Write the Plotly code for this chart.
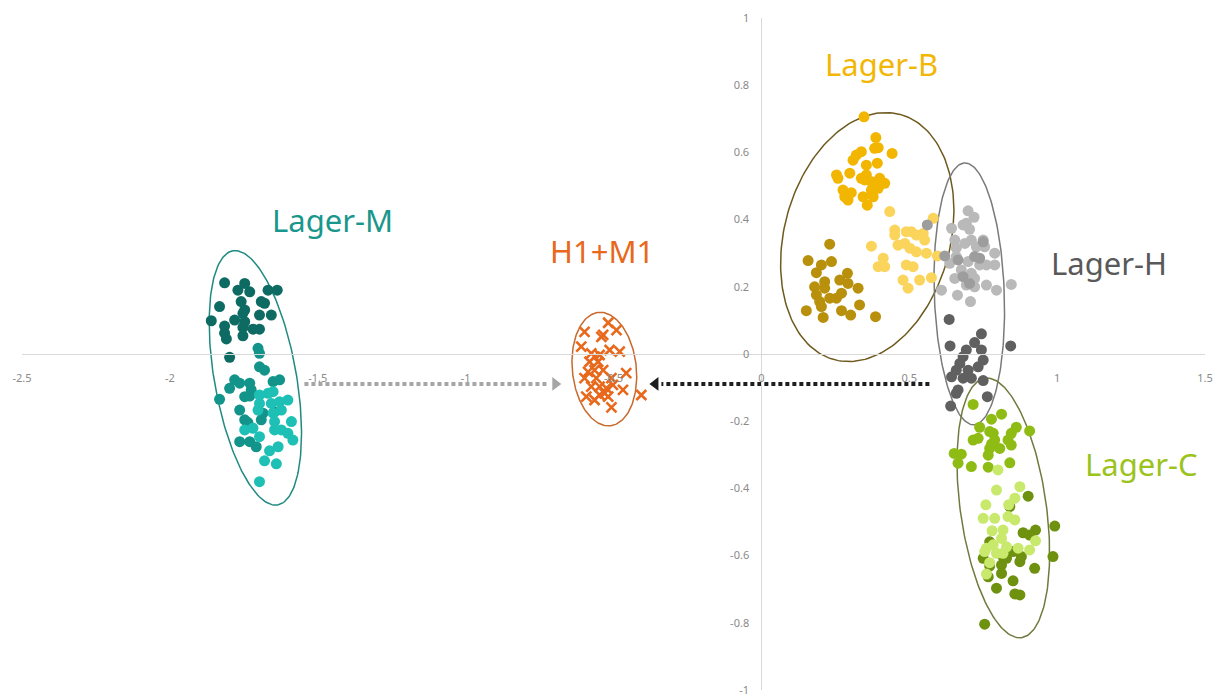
import numpy as np
import plotly.graph_objects as go

# ---------------- data ----------------
m_dark_x = [-1.815, -1.770, -1.747, -1.730, -1.668, -1.637, -1.759, -1.691, -1.680, -1.832, -1.747, -1.753, -1.697,
            -1.657, -1.860, -1.781, -1.747, -1.815, -1.753, -1.719, -1.697, -1.815, -1.753, -1.809, -1.798]
m_dark_y = [0.212, 0.190, 0.210, 0.185, 0.190, 0.190, 0.156, 0.156, 0.151, 0.141, 0.131, 0.121, 0.116,
            0.116, 0.099, 0.101, 0.096, 0.083, 0.079, 0.074, 0.074, 0.062, 0.054, 0.045, -0.010]
m_mid_x = [-1.702, -1.697, -1.697, -1.680, -1.781, -1.764, -1.798, -1.730, -1.725, -1.651, -1.629, -1.832, -1.747,
           -1.730, -1.764, -1.685, -1.691, -1.646, -1.747, -1.736, -1.764, -1.730, -1.708]
m_mid_y = [0.017, 0.002, -0.038, -0.048, -0.077, -0.087, -0.102, -0.087, -0.107, -0.082, -0.077, -0.135, -0.127,
           -0.125, -0.167, -0.176, -0.196, -0.172, -0.196, -0.204, -0.261, -0.261, -0.276]
m_light_x = [-1.697, -1.668, -1.651, -1.697, -1.657, -1.629, -1.601, -1.702, -1.651, -1.623, -1.589, -1.646, -1.747,
             -1.719, -1.697, -1.646, -1.623, -1.601, -1.584, -1.634, -1.663, -1.680, -1.640, -1.697]
m_light_y = [-0.122, -0.117, -0.112, -0.147, -0.147, -0.142, -0.137, -0.167, -0.176, -0.167, -0.201, -0.201, -0.226,
             -0.221, -0.246, -0.226, -0.226, -0.236, -0.256, -0.276, -0.288, -0.318, -0.327, -0.380]

hm_x = [-0.598, -0.518, -0.490, -0.535, -0.541, -0.609, -0.575, -0.564, -0.547, -0.513, -0.479, -0.581, -0.552,
        -0.586, -0.564, -0.535, -0.598, -0.558, -0.507, -0.457, -0.575, -0.547, -0.524, -0.502, -0.468, -0.592,
        -0.547, -0.518, -0.564, -0.406, -0.507, -0.530]
hm_y = [0.066, 0.093, 0.071, 0.057, 0.051, 0.022, 0.002, -0.008, -0.003, 0.012, 0.007, -0.023, -0.023,
        -0.053, -0.048, -0.048, -0.072, -0.072, -0.072, -0.057, -0.097, -0.097, -0.102, -0.092, -0.107, -0.127,
        -0.122, -0.127, -0.137, -0.122, -0.159, -0.117]

b_main_x = [0.347, 0.387, 0.383, 0.395, 0.442, 0.338, 0.321, 0.310, 0.355, 0.392, 0.299, 0.254, 0.259, 0.338,
            0.355, 0.372, 0.400, 0.417, 0.395, 0.276, 0.304, 0.282, 0.293, 0.344, 0.378, 0.358, 0.372, 0.349]
b_main_y = [0.706, 0.644, 0.612, 0.614, 0.597, 0.602, 0.592, 0.577, 0.562, 0.568, 0.538, 0.533, 0.523, 0.523,
            0.533, 0.513, 0.523, 0.508, 0.493, 0.488, 0.480, 0.468, 0.458, 0.468, 0.468, 0.443, 0.488, 0.518]
b_light_x = [0.434, 0.581, 0.451, 0.451, 0.490, 0.507, 0.524, 0.547, 0.552, 0.462, 0.485, 0.502, 0.524, 0.372,
             0.558, 0.595, 0.412, 0.395, 0.417, 0.490, 0.513, 0.479, 0.535, 0.496, 0.575]
b_light_y = [0.424, 0.404, 0.369, 0.354, 0.364, 0.364, 0.354, 0.359, 0.339, 0.324, 0.329, 0.315, 0.304, 0.321,
             0.300, 0.292, 0.285, 0.260, 0.260, 0.265, 0.260, 0.220, 0.220, 0.196, 0.227]
b_dark_x = [0.231, 0.158, 0.203, 0.237, 0.186, 0.291, 0.214, 0.180, 0.265, 0.293, 0.327, 0.186, 0.231, 0.271,
            0.254, 0.197, 0.203, 0.152, 0.271, 0.302, 0.332, 0.209, 0.386, 0.214]
b_dark_y = [0.327, 0.278, 0.265, 0.275, 0.242, 0.240, 0.215, 0.200, 0.220, 0.210, 0.196, 0.176, 0.166, 0.181,
            0.166, 0.156, 0.141, 0.129, 0.129, 0.116, 0.146, 0.109, 0.111, 0.196]

h_light_x = [0.699, 0.719, 0.643, 0.682, 0.693, 0.704, 0.654, 0.710, 0.750, 0.688, 0.659, 0.727, 0.755, 0.789,
             0.659, 0.637, 0.699, 0.738, 0.761, 0.789, 0.676, 0.710, 0.721, 0.654, 0.845, 0.761, 0.795, 0.609,
             0.721, 0.663, 0.707, 0.693]
h_light_y = [0.426, 0.407, 0.374, 0.384, 0.389, 0.371, 0.339, 0.339, 0.339, 0.329, 0.315, 0.319, 0.319, 0.300,
             0.290, 0.270, 0.275, 0.265, 0.265, 0.265, 0.250, 0.240, 0.225, 0.225, 0.207, 0.205, 0.190, 0.190,
             0.200, 0.175, 0.156, 0.205]
h_mid_x = [0.561, 0.620, 0.665, 0.738, 0.682, 0.704, 0.750, 0.721]
h_mid_y = [0.384, 0.292, 0.280, 0.285, 0.230, 0.210, 0.334, 0.290]
h_dark_x = [0.635, 0.744, 0.843, 0.638, 0.721, 0.693, 0.744, 0.682, 0.750, 0.671, 0.733, 0.659, 0.699, 0.643,
            0.682, 0.710, 0.750, 0.665, 0.659, 0.764, 0.640]
h_dark_y = [0.103, 0.060, 0.024, 0.024, 0.034, 0.012, 0.012, -0.008, -0.018, -0.028, -0.038, -0.048, -0.048,
            -0.068, -0.072, -0.072, -0.079, -0.107, -0.117, -0.127, -0.155]

c_mid_x = [0.716, 0.778, 0.812, 0.738, 0.772, 0.784, 0.862, 0.907, 0.845, 0.716, 0.733, 0.789, 0.834, 0.845,
           0.772, 0.806, 0.767, 0.652, 0.676, 0.665, 0.710, 0.767, 0.840, 0.778]
c_mid_y = [-0.150, -0.194, -0.179, -0.218, -0.231, -0.236, -0.218, -0.229, -0.236, -0.256, -0.251, -0.256,
           -0.256, -0.271, -0.281, -0.281, -0.301, -0.296, -0.298, -0.325, -0.335, -0.337, -0.324, -0.268]
c_light_x = [0.800, 0.795, 0.874, 0.857, 0.759, 0.836, 0.750, 0.789, 0.834, 0.857, 0.780, 0.817, 0.812, 0.927,
             0.829, 0.761, 0.784, 0.868, 0.907, 0.755, 0.795, 0.817, 0.772, 0.761]
c_light_y = [-0.345, -0.405, -0.395, -0.429, -0.449, -0.449, -0.489, -0.489, -0.484, -0.494, -0.526, -0.524,
             -0.549, -0.556, -0.574, -0.578, -0.568, -0.578, -0.583, -0.588, -0.593, -0.593, -0.621, -0.655]
c_dark_x = [0.902, 0.840, 0.992, 0.885, 0.927, 0.907, 0.772, 0.851, 0.879, 0.750, 0.829, 0.874, 0.986, 0.812,
            0.772, 0.924, 0.812, 0.767, 0.851, 0.795, 0.857, 0.874, 0.755, 0.817]
c_dark_y = [-0.423, -0.454, -0.512, -0.532, -0.524, -0.539, -0.559, -0.588, -0.603, -0.608, -0.608, -0.618,
            -0.603, -0.628, -0.631, -0.638, -0.653, -0.663, -0.675, -0.697, -0.714, -0.717, -0.804, -0.603]

group_labels = ["Lager-M", "H1+M1", "Lager-B", "Lager-H", "Lager-C"]
label_x = [-1.449, -0.538, 0.406, 1.177, 1.285]
label_y = [0.399, 0.307, 0.862, 0.272, -0.328]

# ellipse: centre (data), semi-axes (px), tilt from vertical (deg)
ell_cx = [-1.711, -0.531, 0.358, 0.703, 0.818]
ell_cy = [-0.071, -0.045, 0.348, 0.179, -0.458]
ell_a = [129, 57, 127, 131, 131]
ell_b = [41, 32, 83, 35, 43]
ell_tilt = [-10, -6, 15, -2, -8]

arrow_gray_x = [-1.545, -0.717]
arrow_black_x = [0.568, -0.338]
arrow_y = [-0.089, -0.089]

x_ticks = [-2.5, -2, -1.5, -1, -0.5, 0, 0.5, 1, 1.5]
y_ticks = [-1, -0.8, -0.6, -0.4, -0.2, 0, 0.2, 0.4, 0.6, 0.8, 1]

# ---------------- styling ----------------
# page body has an 8px margin, so the figure is made 8px smaller and margins trimmed
W, H = 1214, 687
ML, MR, MT, MB = 14, 17, 10, 5
SX = (W - ML - MR) / 4.0   # px per x unit
SY = (H - MT - MB) / 2.0   # px per y unit
FONT = "Noto Sans"

label_colors = ["#1a978c", "#e8681c", "#f2b705", "#595959", "#9bc31c"]
ell_colors = ["#1f8a80", "#c8692e", "#6e5a1e", "#7a7a7a", "#6f7b3e"]

fig = go.Figure()

t = np.linspace(0, 2 * np.pi, 200)
for cx, cy, a, b, tilt, col in zip(ell_cx, ell_cy, ell_a, ell_b, ell_tilt, ell_colors):
    ph = np.deg2rad(tilt)
    ux, uy = np.sin(ph), -np.cos(ph)
    vx, vy = np.cos(ph), np.sin(ph)
    px = a * np.cos(t) * ux + b * np.sin(t) * vx
    py = a * np.cos(t) * uy + b * np.sin(t) * vy
    fig.add_trace(go.Scatter(x=cx + px / SX, y=cy - py / SY, mode="lines",
                             line=dict(color=col, width=1.5), hoverinfo="skip", showlegend=False))

def dots(xs, ys, color):
    fig.add_trace(go.Scatter(x=xs, y=ys, mode="markers",
                             marker=dict(size=11, color=color, line=dict(width=0)),
                             showlegend=False))

dots(m_dark_x, m_dark_y, "#0d6b63")
dots(m_mid_x, m_mid_y, "#12948a")
dots(m_light_x, m_light_y, "#1ec0b5")

fig.add_trace(go.Scatter(x=hm_x, y=hm_y, mode="markers",
                         marker=dict(symbol="x-thin", size=10, color="#e8681c",
                                     line=dict(width=2.6, color="#e8681c")),
                         showlegend=False))

dots(b_dark_x, b_dark_y, "#b8900c")
dots(b_main_x, b_main_y, "#f2b600")
dots(b_light_x, b_light_y, "#fbd45c")

dots(h_light_x, h_light_y, "#b9b9b9")
dots(h_mid_x, h_mid_y, "#9d9d9d")
dots(h_dark_x, h_dark_y, "#606060")

dots(c_mid_x, c_mid_y, "#8fbc14")
dots(c_dark_x, c_dark_y, "#6e9110")
dots(c_light_x, c_light_y, "#c9e96c")

# dotted arrows
fig.add_trace(go.Scatter(x=arrow_gray_x, y=arrow_y, mode="lines",
                         line=dict(color="#a6a6a6", width=4, dash="4px,3px"),
                         hoverinfo="skip", showlegend=False))
fig.add_trace(go.Scatter(x=[arrow_gray_x[1] + 6 / SX], y=[arrow_y[1]], mode="markers",
                         marker=dict(symbol="triangle-right", size=12, color="#a6a6a6"),
                         hoverinfo="skip", showlegend=False))
fig.add_trace(go.Scatter(x=arrow_black_x, y=arrow_y, mode="lines",
                         line=dict(color="#1e1e1e", width=4, dash="4px,3px"),
                         hoverinfo="skip", showlegend=False))
fig.add_trace(go.Scatter(x=[arrow_black_x[1] - 6 / SX], y=[arrow_y[1]], mode="markers",
                         marker=dict(symbol="triangle-left", size=12, color="#1e1e1e"),
                         hoverinfo="skip", showlegend=False))

for txt, lx, ly, col in zip(group_labels, label_x, label_y, label_colors):
    fig.add_annotation(x=lx, y=ly, text=txt, showarrow=False, xanchor="center", yanchor="middle",
                       font=dict(family=FONT, size=31, color=col))

axis_common = dict(showgrid=False, zeroline=False, showline=True, linecolor="#d9d9d9", linewidth=1,
                   ticks="", tickfont=dict(family=FONT, size=11, color="#8a8a8a"), anchor="free",
                   ticklabeloverflow="allow", automargin=False)

fig.update_layout(
    width=W, height=H,
    margin=dict(l=ML, r=MR, t=MT, b=MB),
    paper_bgcolor="white", plot_bgcolor="white",
    xaxis=dict(range=[-2.5, 1.5], tickvals=x_ticks, ticktext=[f"{v:g}" for v in x_ticks],
               position=0.5, ticklabelstandoff=14, **axis_common),
    yaxis=dict(range=[-1, 1], tickvals=y_ticks, ticktext=[f"{v:g}" for v in y_ticks],
               position=0.625, ticklabelstandoff=10, **axis_common),
    showlegend=False,
)

fig.write_html("out.html")
